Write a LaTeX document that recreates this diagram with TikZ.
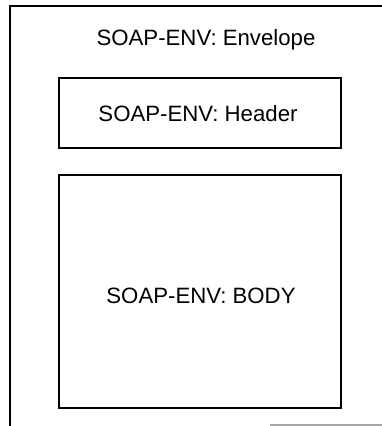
\documentclass[tikz,border=0pt]{standalone}
\usepackage{fontspec}
\setmainfont{Liberation Sans}
\begin{document}
\begin{tikzpicture}[x=1pt,y=-1pt,
  box/.style={draw, line width=2pt, inner sep=0pt},
  lbl/.style={font=\fontsize{22.2}{26}\selectfont, inner sep=0pt}]
\useasboundingbox (0,0) rectangle (382,426);
\coordinate (oBL) at (10,426);
\coordinate (oTL) at (10,6);
\coordinate (oTR) at (382,6);
\draw[line width=2pt] (oBL) -- (oTL) -- (oTR);
\coordinate (bA) at (270,425);
\coordinate (bB) at (382,425);
\draw[gray!70, line width=1.2pt] (bA) -- (bB);
\node[lbl, anchor=base] (env) at (206,45) {SOAP-ENV: Envelope};
\node[box, minimum width=282pt, minimum height=70pt] (hdr) at (200,112.5) {};
\node[lbl, anchor=base] (hdrt) at (198,121) {SOAP-ENV: Header};
\node[box, minimum width=282pt, minimum height=233pt] (body) at (200,291.5) {};
\node[lbl, anchor=base] (bodyt) at (201,303) {SOAP-ENV: BODY};
\end{tikzpicture}
\end{document}
